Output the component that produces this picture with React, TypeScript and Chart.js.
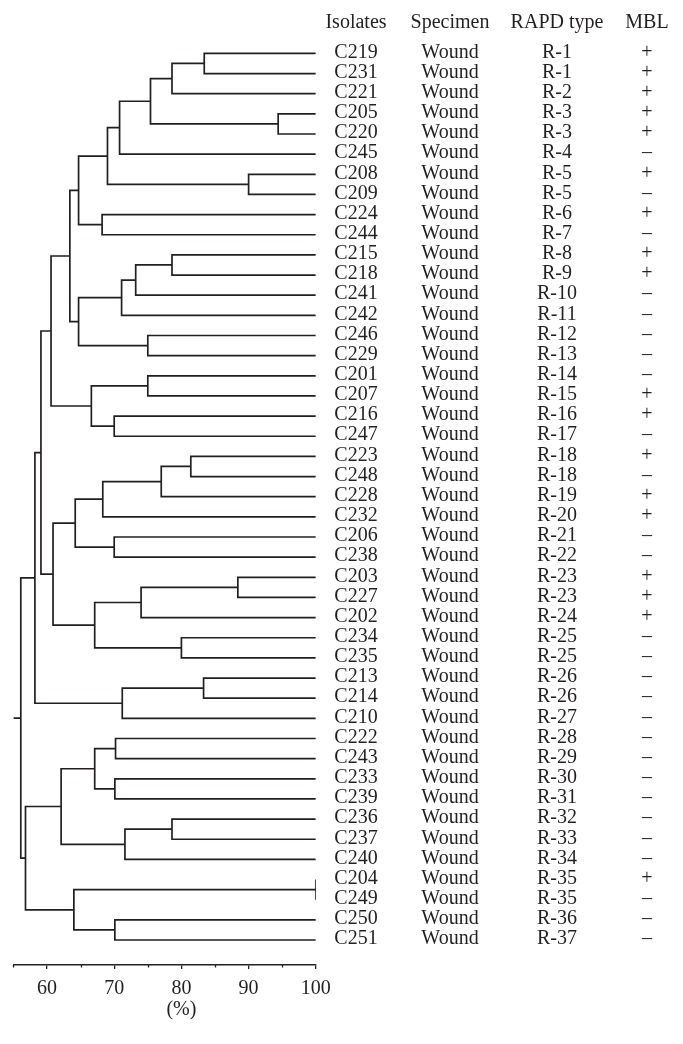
import React, { useEffect, useRef } from 'react';
import { Chart, registerables } from 'chart.js';

Chart.register(...registerables);

// ---- data ----
const headers = ['Isolates', 'Specimen', 'RAPD type', 'MBL'];

const isolates = [
  'C219', 'C231', 'C221', 'C205', 'C220', 'C245', 'C208', 'C209', 'C224', 'C244',
  'C215', 'C218', 'C241', 'C242', 'C246', 'C229', 'C201', 'C207', 'C216', 'C247',
  'C223', 'C248', 'C228', 'C232', 'C206', 'C238', 'C203', 'C227', 'C202', 'C234',
  'C235', 'C213', 'C214', 'C210', 'C222', 'C243', 'C233', 'C239', 'C236', 'C237',
  'C240', 'C204', 'C249', 'C250', 'C251',
];

const specimens = [
  'Wound', 'Wound', 'Wound', 'Wound', 'Wound', 'Wound', 'Wound', 'Wound', 'Wound', 'Wound',
  'Wound', 'Wound', 'Wound', 'Wound', 'Wound', 'Wound', 'Wound', 'Wound', 'Wound', 'Wound',
  'Wound', 'Wound', 'Wound', 'Wound', 'Wound', 'Wound', 'Wound', 'Wound', 'Wound', 'Wound',
  'Wound', 'Wound', 'Wound', 'Wound', 'Wound', 'Wound', 'Wound', 'Wound', 'Wound', 'Wound',
  'Wound', 'Wound', 'Wound', 'Wound', 'Wound',
];

const rapdTypes = [
  'R-1', 'R-1', 'R-2', 'R-3', 'R-3', 'R-4', 'R-5', 'R-5', 'R-6', 'R-7',
  'R-8', 'R-9', 'R-10', 'R-11', 'R-12', 'R-13', 'R-14', 'R-15', 'R-16', 'R-17',
  'R-18', 'R-18', 'R-19', 'R-20', 'R-21', 'R-22', 'R-23', 'R-23', 'R-24', 'R-25',
  'R-25', 'R-26', 'R-26', 'R-27', 'R-28', 'R-29', 'R-30', 'R-31', 'R-32', 'R-33',
  'R-34', 'R-35', 'R-35', 'R-36', 'R-37',
];

const mbl = [
  '+', '+', '+', '+', '+', '–', '+', '–', '+', '–',
  '+', '+', '–', '–', '–', '–', '–', '+', '+', '–',
  '+', '–', '+', '+', '–', '–', '+', '+', '+', '–',
  '–', '–', '–', '–', '–', '–', '–', '–', '–', '–',
  '–', '+', '–', '–', '–',
];

// merges: [childA, childB, similarity %]; ids 0..44 are leaves, 45+k is merge k
const merges: [number, number, number][] = [
  [0, 1, 83.4],    // 45
  [45, 2, 78.6],   // 46
  [3, 4, 94.4],    // 47
  [46, 47, 75.4],  // 48
  [48, 5, 70.8],   // 49
  [6, 7, 90.0],    // 50
  [49, 50, 69.0],  // 51
  [8, 9, 68.2],    // 52
  [51, 52, 64.7],  // 53
  [10, 11, 78.6],  // 54
  [54, 12, 73.2],  // 55
  [55, 13, 71.1],  // 56
  [14, 15, 75.0],  // 57
  [56, 57, 64.7],  // 58
  [53, 58, 63.4],  // 59
  [16, 17, 75.0],  // 60
  [18, 19, 70.0],  // 61
  [60, 61, 66.6],  // 62
  [59, 62, 60.6],  // 63
  [20, 21, 81.4],  // 64
  [64, 22, 77.0],  // 65
  [65, 23, 68.3],  // 66
  [24, 25, 70.0],  // 67
  [66, 67, 64.2],  // 68
  [26, 27, 88.4],  // 69
  [69, 28, 74.0],  // 70
  [29, 30, 80.0],  // 71
  [70, 71, 67.1],  // 72
  [68, 72, 60.9],  // 73
  [63, 73, 59.1],  // 74
  [31, 32, 83.3],  // 75
  [75, 33, 71.2],  // 76
  [74, 76, 58.2],  // 77
  [34, 35, 70.2],  // 78
  [36, 37, 70.1],  // 79
  [78, 79, 67.1],  // 80
  [38, 39, 78.6],  // 81
  [81, 40, 71.6],  // 82
  [80, 82, 62.1],  // 83
  [41, 42, 100.0], // 84
  [43, 44, 70.1],  // 85
  [84, 85, 64.0],  // 86
  [83, 86, 56.8],  // 87
  [77, 87, 56.1],  // 88 (root)
];

const leafSimilarity = 100;
const axisMin = 55;
const axisMax = 100;
const xTickLabels = [60, 70, 80, 90, 100];
const axisTitle = '(%)';

// ---- styles ----
const INK = '#231f20';
const FONT = '"Liberation Serif", "Times New Roman", serif';
const colX = [356, 450, 557, 647];

function buildDatasets() {
  const nodeX: number[] = [];
  const nodeY: number[] = [];
  for (let i = 0; i < isolates.length; i++) {
    nodeX.push(leafSimilarity);
    nodeY.push(i);
  }
  const base = {
    showLine: true,
    pointRadius: 0,
    borderColor: INK,
    borderWidth: 1.7,
    tension: 0,
    borderJoinStyle: 'miter' as const,
    borderCapStyle: 'butt' as const,
    fill: false,
  };
  const datasets: any[] = [];
  merges.forEach(([a, b, h]) => {
    datasets.push({
      ...base,
      data: [
        { x: nodeX[a], y: nodeY[a] },
        { x: h, y: nodeY[a] },
        { x: h, y: nodeY[b] },
        { x: nodeX[b], y: nodeY[b] },
      ],
    });
    nodeX.push(h);
    nodeY.push((nodeY[a] + nodeY[b]) / 2);
  });
  const root = nodeX.length - 1;
  datasets.push({
    ...base,
    data: [
      { x: axisMin, y: nodeY[root] },
      { x: nodeX[root], y: nodeY[root] },
    ],
  });
  return datasets;
}

const isMajor = (v: number) => xTickLabels.includes(Number(v));

const tablePlugin = {
  id: 'tableText',
  afterDraw(chart: any) {
    const { ctx, scales, chartArea } = chart;
    const ys = scales.y;
    const xs = scales.x;
    ctx.save();
    // minor ticks (shorter than the major ones)
    ctx.strokeStyle = INK;
    ctx.lineWidth = 1.3;
    xs.ticks.forEach((t: any) => {
      if (isMajor(t.value)) return;
      const px = Math.round(xs.getPixelForValue(t.value)) + 0.5;
      ctx.beginPath();
      ctx.moveTo(px, chartArea.bottom);
      ctx.lineTo(px, chartArea.bottom + 2.5);
      ctx.stroke();
    });
    ctx.font = `20px ${FONT}`;
    ctx.fillStyle = INK;
    ctx.textAlign = 'center';
    ctx.textBaseline = 'middle';
    const y0 = ys.getPixelForValue(0);
    headers.forEach((h, j) => ctx.fillText(h, colX[j], y0 - 31));
    for (let i = 0; i < isolates.length; i++) {
      const y = ys.getPixelForValue(i) - 1;
      ctx.fillText(isolates[i], colX[0], y);
      ctx.fillText(specimens[i], colX[1], y);
      ctx.fillText(rapdTypes[i], colX[2], y);
      ctx.fillText(mbl[i], colX[3], y);
    }
    ctx.fillText(axisTitle, xs.getPixelForValue(80), chartArea.bottom + 45);
    ctx.restore();
  },
};

export default function App() {
  const ref = useRef<HTMLCanvasElement | null>(null);
  useEffect(() => {
    if (!ref.current) return;
    const chart = new Chart(ref.current, {
      type: 'scatter',
      data: { datasets: buildDatasets() },
      options: {
        responsive: false,
        maintainAspectRatio: false,
        animation: false,
        events: [],
        layout: { padding: { left: 13.4, right: 367.2, top: 28.4, bottom: 0 } },
        plugins: { legend: { display: false }, tooltip: { enabled: false }, title: { display: false } },
        scales: {
          x: {
            type: 'linear',
            position: 'bottom',
            min: axisMin,
            max: axisMax,
            afterFit: (s: any) => { s.height = 79; },
            ticks: {
              stepSize: 5,
              autoSkip: false,
              maxRotation: 0,
              padding: 8,
              color: INK,
              font: { family: FONT, size: 20 },
              callback: (v: any) => (isMajor(Number(v)) ? String(v) : ''),
            },
            grid: {
              drawOnChartArea: false,
              drawTicks: true,
              tickLength: 4,
              color: INK,
              lineWidth: 1.3,
              tickColor: (c: any) => (c.tick && isMajor(c.tick.value) ? INK : 'rgba(0,0,0,0)'),
            },
            border: { display: true, color: INK, width: 1.6 },
          },
          y: {
            type: 'linear',
            display: false,
            reverse: true,
            min: -1.24,
            max: 45.24,
          },
        },
      },
      plugins: [tablePlugin],
    });
    return () => chart.destroy();
  }, []);
  return (
    <div style={{ position: 'absolute', left: 0, top: 0, width: 683, height: 1044 }}>
      <canvas ref={ref} width={683} height={1044} style={{ width: 683, height: 1044 }} />
    </div>
  );
}
